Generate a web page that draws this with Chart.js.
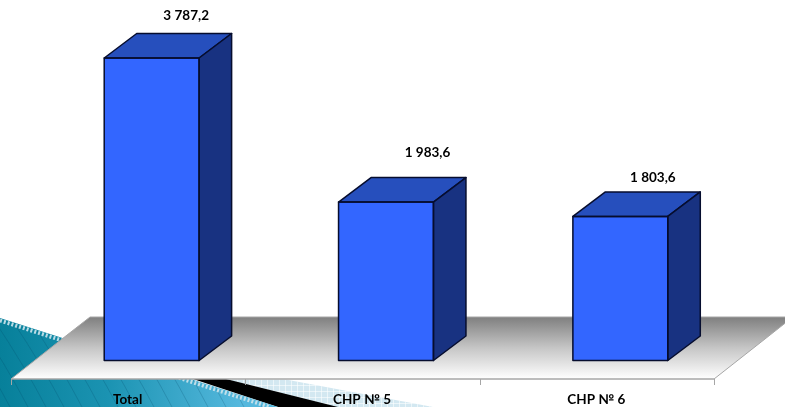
<!DOCTYPE html>
<html><head><meta charset="utf-8">
<style>html,body{margin:0;padding:0;background:#fff}canvas{display:block}</style>
<script src="https://cdn.jsdelivr.net/npm/chart.js@4"></script>
</head><body><canvas id="c" width="785" height="407"></canvas>
<script>
const categories = ["Total", "CHP № 5", "CHP № 6"];
const seriesValues = [3787.2, 1983.6, 1803.6];
const valueLabels = ["3 787,2", "1 983,6", "1 803,6"];

const DEPTH = {x: 32.5, y: -24.5};
const FLOOR = {shiftX: -23.5, front: 18.5, backX: 79, backY: -62};
const LABEL_NUDGE = [{x: 34.5, y: -42}, {x: 41.5, y: -49.5}, {x: 32.5, y: -38.5}];

function poly(ctx, pts){ ctx.beginPath(); pts.forEach((p,i)=> i?ctx.lineTo(p[0],p[1]):ctx.moveTo(p[0],p[1])); ctx.closePath(); }

const backdrop = { id:'backdrop', beforeDraw(chart){
  const ctx = chart.ctx; ctx.save();
  // pale patterned band
  ctx.save();
  poly(ctx,[[225,379],[283,379],[433,407],[335,407]]); ctx.fillStyle='#d3e8f1'; ctx.fill(); ctx.clip();
  ctx.strokeStyle='rgba(255,255,255,.55)'; ctx.lineWidth=1;
  for(let x=225;x<440;x+=6){ctx.beginPath();ctx.moveTo(x+.5,375);ctx.lineTo(x+.5,407);ctx.stroke();}
  for(let y=379;y<407;y+=6){ctx.beginPath();ctx.moveTo(225,y+.5);ctx.lineTo(440,y+.5);ctx.stroke();}
  ctx.restore();
  // black band
  poly(ctx,[[190,378],[226,379],[338,407],[278,407]]); ctx.fillStyle='#000'; ctx.fill();
  // teal wedge
  ctx.save();
  poly(ctx,[[0,318],[278,407],[0,407]]);
  const g=ctx.createLinearGradient(0,0,240,0);
  g.addColorStop(0,'#07809a'); g.addColorStop(.45,'#1b93b2'); g.addColorStop(1,'#55b8dd');
  ctx.fillStyle=g; ctx.fill(); ctx.clip();
  ctx.strokeStyle='rgba(0,70,100,.22)'; ctx.lineWidth=1;
  for(let x=-60;x<280;x+=18){ctx.beginPath();ctx.moveTo(x,320);ctx.quadraticCurveTo(x+30,365,x+52,407);ctx.stroke();}
  ctx.restore();
  // dashed light edge of the wedge
  ctx.strokeStyle='rgba(205,228,236,.9)'; ctx.lineWidth=4; ctx.setLineDash([2,2]);
  ctx.beginPath(); ctx.moveTo(0,320.5); ctx.lineTo(270,407); ctx.stroke(); ctx.setLineDash([]);
  ctx.restore();
  // floor, derived from the category scale
  const xs = chart.scales.x, ys = chart.scales.y;
  const step = xs.getPixelForValue(1)-xs.getPixelForValue(0);
  const x0 = xs.getPixelForValue(0)-step/2+FLOOR.shiftX, base = ys.getPixelForValue(0)+FLOOR.front;
  const x1 = x0+step*categories.length;
  ctx.save();
  const f=ctx.createLinearGradient(0,base+FLOOR.backY,0,base);
  f.addColorStop(0,'#7f7f7f'); f.addColorStop(.5,'#c6c6c6'); f.addColorStop(1,'#ffffff');
  poly(ctx,[[x0,base],[x0+FLOOR.backX,base+FLOOR.backY],[x1+FLOOR.backX,base+FLOOR.backY],[x1,base]]);
  ctx.fillStyle=f; ctx.fill();
  ctx.strokeStyle='#a6a6a6'; ctx.lineWidth=1; 
  ctx.beginPath();ctx.moveTo(x0,base);ctx.lineTo(x0+FLOOR.backX,base+FLOOR.backY);ctx.lineTo(x1+FLOOR.backX,base+FLOOR.backY);ctx.lineTo(x1,base);ctx.stroke();
  ctx.lineWidth=1.5; ctx.beginPath();ctx.moveTo(x0,base);ctx.lineTo(x1,base);ctx.stroke();
  ctx.lineWidth=1;
  for(let i=0;i<=categories.length;i++){const x=Math.round(x0+step*i)+.5;ctx.beginPath();ctx.moveTo(x,base);ctx.lineTo(x,base+6);ctx.stroke();}
  ctx.restore();
}};

const bars3d = { id:'bars3d', afterDatasetsDraw(chart){
  const ctx=chart.ctx; const meta=chart.getDatasetMeta(0);
  meta.data.forEach((b,i)=>{
    const {x,y,base,width}=b.getProps(['x','y','base','width'],true);
    const l=x-width/2,r=x+width/2,dx=DEPTH.x,dy=DEPTH.y;
    ctx.save(); ctx.lineJoin='round'; ctx.lineWidth=1.5; ctx.strokeStyle='#060d2e';
    poly(ctx,[[l,y],[l+dx,y+dy],[r+dx,y+dy],[r,y]]); ctx.fillStyle='#264fbd'; ctx.fill(); ctx.stroke();
    poly(ctx,[[r,y],[r+dx,y+dy],[r+dx,base+dy],[r,base]]); ctx.fillStyle='#183281'; ctx.fill(); ctx.stroke();
    poly(ctx,[[l,y],[r,y],[r,base],[l,base]]); ctx.stroke();
    ctx.restore();
    ctx.save(); ctx.font='bold 13.5px Lato'; ctx.fillStyle='#000'; ctx.textAlign='center'; ctx.textBaseline='middle';
    ctx.fillText(valueLabels[i], x+LABEL_NUDGE[i].x, y+LABEL_NUDGE[i].y);
    ctx.restore();
  });
}};

new Chart(document.getElementById('c'),{
  type:'bar',
  data:{labels:categories,datasets:[{data:seriesValues,backgroundColor:'#3366ff',borderColor:'#060d2e',borderWidth:0,barPercentage:.405,categoryPercentage:1}]},
  options:{
    responsive:false,animation:false,devicePixelRatio:1,
    layout:{padding:{left:34.5,right:47.5,top:41,bottom:0}},
    plugins:{legend:{display:false},tooltip:{enabled:false}},
    scales:{
      x:{grid:{display:false},border:{display:false},
         afterFit(s){s.height=46.5;},
         ticks:{color:'#000',font:{family:'Lato',size:13.5,weight:'bold'},padding:23,labelOffset:-24,maxRotation:0,autoSkip:false}},
      y:{display:false,min:0,max:4000}
    }
  },
  plugins:[backdrop,bars3d]
});
</script></body></html>
